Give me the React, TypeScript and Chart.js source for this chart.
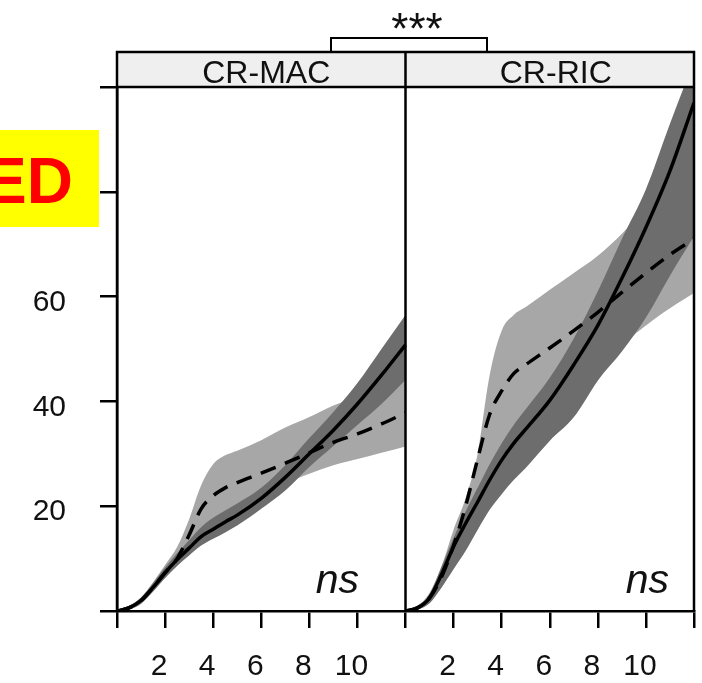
import React, { useEffect, useRef } from 'react';
import { Chart, registerables } from 'chart.js';

Chart.register(...registerables);

// ---- data ----
const xValues = [0, 0.5, 1, 1.5, 2, 2.5, 3, 3.5, 4, 4.5, 5, 6, 7, 8, 9, 10, 11, 12];
const panelNames = ['CR-MAC', 'CR-RIC'];
const panelSpan = 12;
const xTickLabels = [2, 4, 6, 8, 10];
const yTickLabels = [20, 40, 60, 80];

// CR-MAC
const macSolid = [0, 0.6, 2.0, 4.5, 7.3, 9.8, 12.0, 14.2, 15.6, 17.0, 18.3, 21.5, 25.5, 30.0, 34.5, 39.5, 45.0, 50.8];
const macDashed = [0, 0.6, 2.0, 4.5, 7.3, 10.0, 14.5, 19.5, 22.0, 23.5, 24.5, 26.3, 28.2, 30.2, 32.2, 33.8, 35.7, 37.8];
const macSolidUpper = [0.2, 1.0, 2.6, 5.3, 8.3, 11.0, 13.5, 16.0, 17.8, 19.2, 20.5, 23.5, 27.8, 33.0, 38.0, 43.5, 50.0, 56.5];
const macSolidLower = [0, 0.3, 1.4, 3.7, 6.3, 8.6, 10.6, 12.5, 13.8, 15.0, 16.3, 19.5, 23.0, 27.5, 31.5, 35.5, 39.5, 44.1];
const macDashedUpper = [0.2, 1.0, 2.6, 5.5, 8.8, 12.2, 17.5, 24.0, 28.0, 29.7, 30.6, 32.6, 35.0, 37.0, 39.2, 41.0, 43.0, 45.0];
const macDashedLower = [0, 0.3, 1.4, 3.7, 6.3, 8.7, 11.0, 13.0, 14.5, 16.0, 17.5, 21.3, 24.2, 26.2, 27.8, 29.0, 30.2, 31.4];

// CR-RIC
const ricSolid = [0, 0.6, 2.5, 7.0, 12.3, 16.7, 20.8, 25.0, 28.8, 32.0, 34.7, 40.2, 47.0, 54.5, 63.5, 73.2, 84.0, 97.0];
const ricDashed = [0, 0.6, 2.5, 6.5, 12.5, 20.0, 29.0, 37.5, 42.0, 45.3, 47.0, 50.2, 53.5, 57.0, 60.8, 64.5, 68.0, 71.0];
const ricSolidUpper = [0.2, 1.0, 3.2, 8.5, 14.0, 19.0, 23.5, 28.0, 32.0, 35.5, 38.5, 44.5, 52.0, 61.0, 71.0, 80.5, 93.0, 105.0];
const ricSolidLower = [0, 0.3, 1.5, 4.5, 8.0, 11.5, 15.5, 19.3, 22.3, 25.0, 27.3, 32.5, 37.0, 44.0, 49.5, 56.0, 64.0, 71.5];
const ricDashedUpper = [0.2, 1.0, 3.5, 8.5, 15.5, 21.5, 30.0, 45.0, 53.5, 56.5, 58.0, 61.3, 64.5, 67.8, 72.0, 77.0, 82.0, 87.0];
const ricDashedLower = [0, 0.3, 1.5, 4.5, 8.0, 11.5, 15.5, 19.5, 22.5, 25.2, 27.5, 32.5, 37.0, 44.0, 50.5, 54.5, 57.8, 60.7];

// ---- styles ----
const FONT = "'Liberation Sans', Arial, Helvetica, sans-serif";
const LIGHT = '#a7a7a7';
const DARK = '#6d6d6d';

const pts = (ys: number[], off: number) => xValues.map((x, i) => ({ x: x + off, y: ys[i] }));

const band = (lo: number[], hi: number[], off: number, color: string, order: number) => [
  { data: pts(lo, off), borderWidth: 0, pointRadius: 0, fill: false, order, cubicInterpolationMode: 'monotone' },
  { data: pts(hi, off), borderWidth: 0, pointRadius: 0, fill: '-1', backgroundColor: color, order, cubicInterpolationMode: 'monotone' },
];

const line = (ys: number[], off: number, dashed: boolean) => ({
  data: pts(ys, off),
  borderColor: '#000',
  borderWidth: 3.5,
  borderDash: dashed ? [16, 10] : [],
  pointRadius: 0,
  fill: false,
  order: 0,
  cubicInterpolationMode: 'monotone',
});

const decor = {
  id: 'decor',
  afterDraw(chart: any) {
    const { ctx, chartArea: a, scales } = chart;
    const mid = scales.x.getPixelForValue(panelSpan);
    const stripTop = a.top - 35;
    ctx.save();
    // strip
    ctx.fillStyle = '#efefef';
    ctx.fillRect(a.left, stripTop, a.right - a.left, a.top - stripTop);
    ctx.strokeStyle = '#000';
    ctx.lineWidth = 2.5;
    ctx.beginPath();
    ctx.moveTo(a.left, a.bottom);
    ctx.lineTo(a.left, stripTop);
    ctx.lineTo(a.right, stripTop);
    ctx.lineTo(a.right, a.bottom);
    ctx.moveTo(a.left, a.top);
    ctx.lineTo(a.right, a.top);
    ctx.moveTo(mid, stripTop);
    ctx.lineTo(mid, a.bottom);
    ctx.stroke();
    // strip labels
    ctx.fillStyle = '#111';
    ctx.font = `32px ${FONT}`;
    ctx.textAlign = 'center';
    ctx.textBaseline = 'alphabetic';
    ctx.fillText(panelNames[0], (a.left + mid) / 2 + 5, a.top - 4);
    ctx.fillText(panelNames[1], (mid + a.right) / 2 + 6, a.top - 4);
    // significance bracket
    ctx.lineWidth = 2;
    ctx.beginPath();
    ctx.moveTo(331, stripTop);
    ctx.lineTo(331, stripTop - 14);
    ctx.lineTo(487, stripTop - 14);
    ctx.lineTo(487, stripTop);
    ctx.stroke();
    ctx.font = `44px ${FONT}`;
    ctx.fillText('***', 417, 44);
    // ns labels
    ctx.font = `italic 41px ${FONT}`;
    ctx.textAlign = 'right';
    ctx.fillText('ns', 359, 593);
    ctx.fillText('ns', 669, 593);
    // yellow label box
    ctx.fillStyle = '#ffff00';
    ctx.fillRect(0, 130, 99, 97);
    ctx.fillStyle = '#ff0000';
    ctx.font = `bold 64px ${FONT}`;
    ctx.textAlign = 'right';
    ctx.fillText('ED', 73, 203);
    ctx.restore();
  },
};

export default function App() {
  const ref = useRef<HTMLCanvasElement>(null);
  useEffect(() => {
    if (!ref.current) return;
    const datasets: any[] = [
      line(macSolid, 0, false),
      line(macDashed, 0, true),
      line(ricSolid, panelSpan, false),
      line(ricDashed, panelSpan, true),
      ...band(macSolidLower, macSolidUpper, 0, DARK, 1),
      ...band(ricSolidLower, ricSolidUpper, panelSpan, DARK, 1),
      ...band(macDashedLower, macDashedUpper, 0, LIGHT, 2),
      ...band(ricDashedLower, ricDashedUpper, panelSpan, LIGHT, 2),
    ];
    const chart = new Chart(ref.current, {
      type: 'line',
      data: { datasets },
      options: {
        animation: false,
        responsive: false,
        devicePixelRatio: 1,
        layout: { padding: { top: 87, right: 8, bottom: 0, left: 0 } },
        plugins: { legend: { display: false }, tooltip: { enabled: false } },
        scales: {
          x: {
            type: 'linear',
            min: 0,
            max: panelSpan * 2,
            afterFit: (s: any) => { s.height = 72; s.paddingLeft = 0; s.paddingRight = 0; },
            border: { display: true, color: '#000', width: 2.5 },
            grid: { drawOnChartArea: false, drawTicks: true, tickLength: 17, color: '#000', lineWidth: 2.5 },
            ticks: {
              stepSize: 2,
              autoSkip: false,
              maxRotation: 0,
              padding: 21,
              labelOffset: -6,
              color: '#111',
              font: { family: FONT, size: 30 },
              callback: (v: any) => {
                const r = Number(v) % panelSpan;
                return xTickLabels.includes(r) ? String(r) : '';
              },
            },
          },
          y: {
            min: 0,
            max: 100,
            afterFit: (s: any) => { s.width = 117; s.paddingTop = 0; s.paddingBottom = 0; },
            border: { display: true, color: '#000', width: 2.5 },
            grid: { drawOnChartArea: false, drawTicks: true, tickLength: 17, color: '#000', lineWidth: 2.5 },
            ticks: {
              stepSize: 20,
              padding: 34,
              labelOffset: 6,
              color: '#111',
              font: { family: FONT, size: 30 },
              callback: (v: any) => (yTickLabels.includes(Number(v)) ? String(v) : ''),
            },
          },
        },
      },
      plugins: [decor],
    } as any);
    return () => chart.destroy();
  }, []);
  return (
    <div style={{ position: 'absolute', left: 0, top: 0, width: 702, height: 683, background: '#fff' }}>
      <canvas ref={ref} width={702} height={683} style={{ display: 'block' }} />
    </div>
  );
}
